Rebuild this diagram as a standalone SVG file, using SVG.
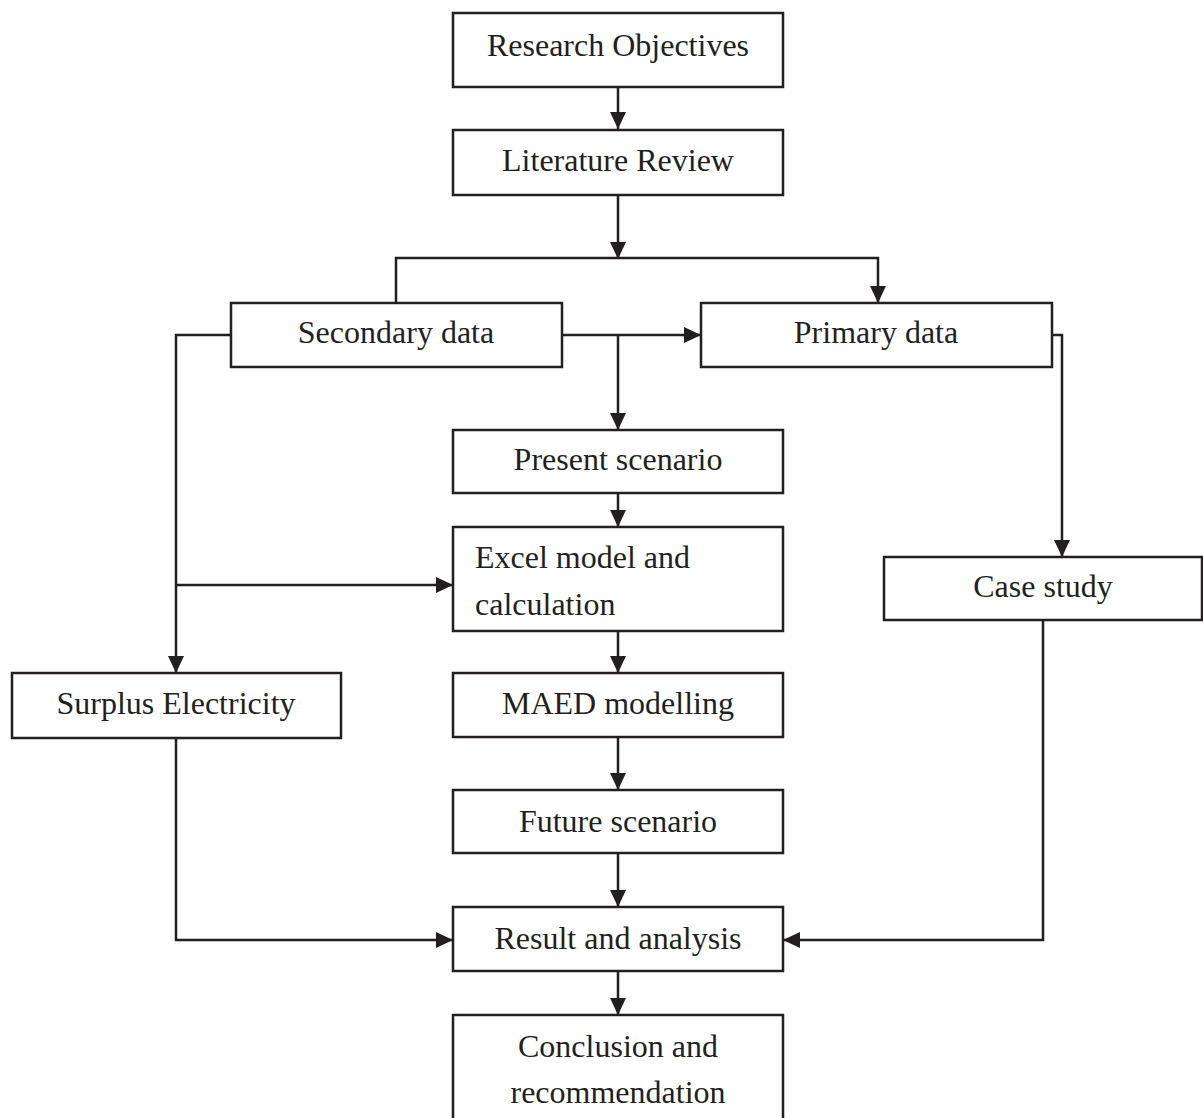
<svg xmlns="http://www.w3.org/2000/svg" width="1203" height="1118" viewBox="0 0 1203 1118">
<style>
.box{fill:#fff;stroke:#231f20;stroke-width:2.5}
.lbl{font-family:"Liberation Serif","Times New Roman",serif;font-size:32px;fill:#231f20;text-anchor:middle}
.lft{text-anchor:start}
.c{fill:none;stroke:#231f20;stroke-width:2.5}
</style>
<defs>
<marker id="ah" markerUnits="userSpaceOnUse" viewBox="0 0 17 16" markerWidth="17" markerHeight="16" refX="17" refY="8" orient="auto">
<path d="M0,0 L17,8 L0,16 z" fill="#231f20"/>
</marker>
</defs>
<g id="connectors">
<path class="c" d="M618,87 V129" marker-end="url(#ah)"/>
<path class="c" d="M618,195 V259" marker-end="url(#ah)"/>
<path class="c" d="M396,303 V258 H878 V303" marker-end="url(#ah)"/>
<path class="c" d="M562,335 H701" marker-end="url(#ah)"/>
<path class="c" d="M618,335 V430" marker-end="url(#ah)"/>
<path class="c" d="M231,335 H176 V673" marker-end="url(#ah)"/>
<path class="c" d="M176,585 H453" marker-end="url(#ah)"/>
<path class="c" d="M618,493 V527" marker-end="url(#ah)"/>
<path class="c" d="M618,631 V673" marker-end="url(#ah)"/>
<path class="c" d="M618,737 V790" marker-end="url(#ah)"/>
<path class="c" d="M618,853 V907" marker-end="url(#ah)"/>
<path class="c" d="M618,971 V1015" marker-end="url(#ah)"/>
<path class="c" d="M176,738 V940 H453" marker-end="url(#ah)"/>
<path class="c" d="M1043,620 V940 H783" marker-end="url(#ah)"/>
<path class="c" d="M1052,335 H1062 V557" marker-end="url(#ah)"/>
</g>
<g id="research-objectives"><rect class="box" x="453" y="13" width="330" height="74"/><text class="lbl" x="618" y="56">Research Objectives</text></g>
<g id="literature-review"><rect class="box" x="453" y="130" width="330" height="65"/><text class="lbl" x="618" y="171">Literature Review</text></g>
<g id="secondary-data"><rect class="box" x="231" y="303" width="331" height="64"/><text class="lbl" x="396" y="343">Secondary data</text></g>
<g id="primary-data"><rect class="box" x="701" y="303" width="351" height="64"/><text class="lbl" x="876" y="343">Primary data</text></g>
<g id="present-scenario"><rect class="box" x="453" y="430" width="330" height="63"/><text class="lbl" x="618" y="470">Present scenario</text></g>
<g id="excel-model"><rect class="box" x="453" y="527" width="330" height="104"/><text class="lbl lft" x="475" y="568">Excel model and</text><text class="lbl lft" x="475" y="615">calculation</text></g>
<g id="case-study"><rect class="box" x="884" y="557" width="318" height="63"/><text class="lbl" x="1043" y="597">Case study</text></g>
<g id="surplus-electricity"><rect class="box" x="12" y="673" width="329" height="65"/><text class="lbl" x="176" y="714">Surplus Electricity</text></g>
<g id="maed-modelling"><rect class="box" x="453" y="673" width="330" height="64"/><text class="lbl" x="618" y="714">MAED modelling</text></g>
<g id="future-scenario"><rect class="box" x="453" y="790" width="330" height="63"/><text class="lbl" x="618" y="832">Future scenario</text></g>
<g id="result-analysis"><rect class="box" x="453" y="907" width="330" height="64"/><text class="lbl" x="618" y="949">Result and analysis</text></g>
<g id="conclusion"><rect class="box" x="453" y="1015" width="330" height="110"/><text class="lbl" x="618" y="1057">Conclusion and</text><text class="lbl" x="618" y="1103">recommendation</text></g>
</svg>
